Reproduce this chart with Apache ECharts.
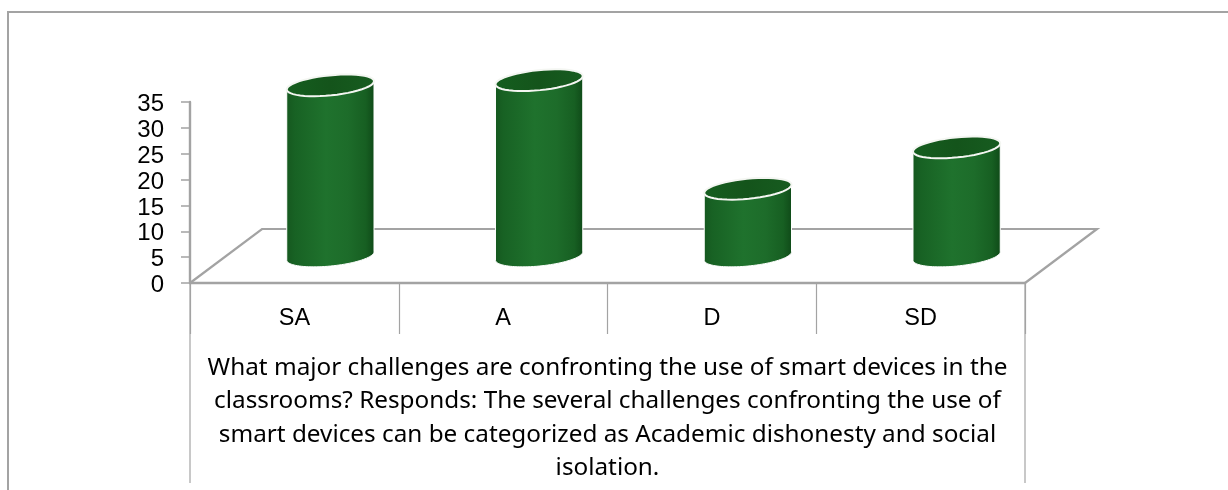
<!DOCTYPE html>
<html>
<head>
<meta charset="utf-8">
<style>html,body{margin:0;padding:0;background:#fff}#c{width:1228px;height:490px}</style>
<script src="https://cdn.jsdelivr.net/npm/echarts@6/dist/echarts.min.js"></script>
</head>
<body>
<div id="c"></div>
<script>
const categories = ['SA', 'A', 'D', 'SD'];
const values = [33, 34, 13, 21];
const yTicks = {min: 0, max: 35, interval: 5};
const question = 'What major challenges are confronting the use of smart devices in the\nclassrooms? Responds: The several challenges confronting the use of\nsmart devices can be categorized as Academic dishonesty and social\nisolation.';

const GREY = '#a3a3a3';
const DX = 72, DY = 54;

function ellipsePts(cx, cy, a, b, th, t0, t1) {
  const pts = [], n = 48, c = Math.cos(th), s = Math.sin(th);
  for (let i = 0; i <= n; i++) {
    const t = t0 + (t1 - t0) * i / n;
    const ex = a * Math.cos(t), ey = b * Math.sin(t);
    pts.push([cx + ex * c - ey * s, cy + ex * s + ey * c]);
  }
  return pts;
}

const chart = echarts.init(document.getElementById('c'), null, {renderer: 'canvas'});
chart.setOption({
  animation: false,
  backgroundColor: '#fff',
  grid: {left: 190, right: 203, top: 102, bottom: 207, containLabel: false},
  xAxis: {
    type: 'category',
    data: categories,
    boundaryGap: true,
    axisLine: {show: true, lineStyle: {color: GREY, width: 2.4}},
    axisTick: {show: true, length: 51, interval: 0, lineStyle: {color: GREY, width: 1.2}},
    axisLabel: {color: '#000', fontFamily: 'Liberation Sans', fontSize: 23.5, margin: 24, interval: 0},
    name: question,
    nameLocation: 'middle',
    nameGap: 135,
    nameTextStyle: {color: '#000', fontFamily: 'Noto Sans', fontSize: 24.3, lineHeight: 33.6, align: 'center', verticalAlign: 'middle'}
  },
  yAxis: {
    type: 'value',
    min: yTicks.min, max: yTicks.max, interval: yTicks.interval,
    splitLine: {show: false},
    axisLine: {show: true, lineStyle: {color: GREY, width: 2.4}},
    axisTick: {show: true, length: 9, lineStyle: {color: GREY, width: 1.5}},
    axisLabel: {color: '#000', fontFamily: 'Liberation Sans', fontSize: 24, margin: 26, verticalAlign: 'top', lineHeight: 5}
  },
  graphic: [
    {type: 'polyline', silent: true, shape: {points: [[8, 490], [8, 12], [1228, 12]]}, style: {stroke: GREY, lineWidth: 2, fill: 'none'}},
    {type: 'line', silent: true, shape: {x1: 190, y1: 283, x2: 190, y2: 483}, style: {stroke: GREY, lineWidth: 1.2}},
    {type: 'line', silent: true, shape: {x1: 1025, y1: 283, x2: 1025, y2: 483}, style: {stroke: GREY, lineWidth: 1.2}}
  ],
  series: [
    {
      type: 'custom', silent: true, z: 1, data: [0],
      renderItem: function (params, api) {
        const g = params.coordSys;
        const x = g.x, b = g.y + g.height, w = g.width;
        return {type: 'polyline', shape: {points: [[x, b], [x + DX, b - DY], [x + w + DX, b - DY], [x + w, b]]},
          style: {stroke: GREY, lineWidth: 2.2, fill: 'none'}};
      }
    },
    {
      type: 'custom', silent: true, z: 3,
      data: values.map((v, i) => [i, v]),
      encode: {x: 0, y: 1},
      renderItem: function (params, api) {
        const top = api.coord([api.value(0), api.value(1)]);
        const base = api.coord([api.value(0), 0]);
        const a = api.size([1, 0])[0] * 0.21;
        const b = 10, th = -0.1;
        const cx = top[0] + DX / 2, cyT = top[1] - DY / 2, cyB = base[1] - DY / 2;
        const tExt = Math.atan2(-b * Math.sin(th), a * Math.cos(th));
        const lower = ellipsePts(cx, cyB, a, b, th, tExt, tExt + Math.PI);
        const upper = ellipsePts(cx, cyT, a, b, th, tExt + Math.PI, tExt + 2 * Math.PI);
        return {
          type: 'group',
          children: [
            {type: 'polygon', z2: 1, shape: {points: lower.concat(upper)},
              style: {
                stroke: '#fff', lineWidth: 1,
                fill: {type: 'linear', x: 0, y: 0, x2: 1, y2: 0, colorStops: [
                  {offset: 0, color: '#15581f'},
                  {offset: 0.1, color: '#186224'},
                  {offset: 0.45, color: '#1f722d'},
                  {offset: 0.7, color: '#1d6c2a'},
                  {offset: 0.9, color: '#175f22'},
                  {offset: 1, color: '#0f4a18'}
                ]}
              }},
            {type: 'polygon', z2: 2, shape: {points: ellipsePts(cx, cyT, a, b, th, 0, 2 * Math.PI)},
              style: {
                stroke: '#f4f6f2', lineWidth: 2,
                fill: {type: 'linear', x: 0, y: 0, x2: 1, y2: 0, colorStops: [
                  {offset: 0, color: '#155e1f'},
                  {offset: 0.5, color: '#14541b'},
                  {offset: 1, color: '#175c20'}
                ]}
              }}
          ]
        };
      }
    }
  ]
});
</script>
</body>
</html>
